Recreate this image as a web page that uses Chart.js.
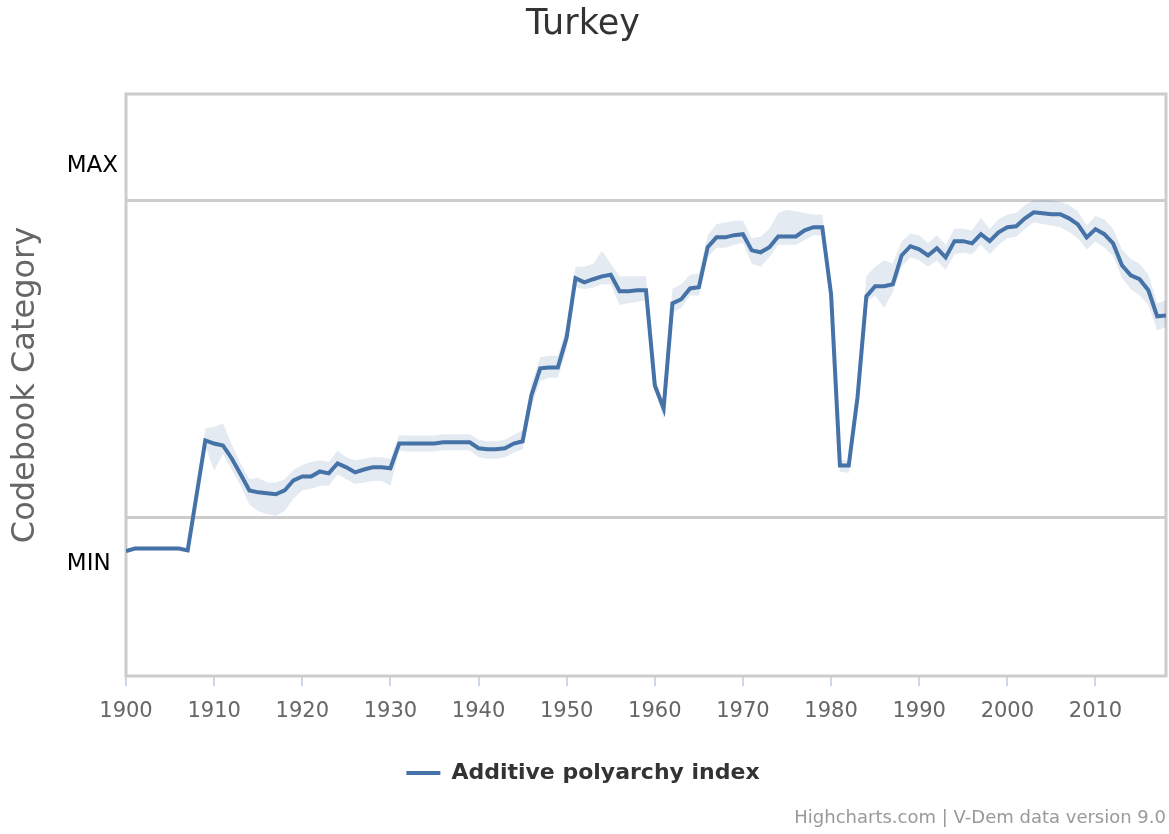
<!DOCTYPE html>
<html>
<head>
<meta charset="utf-8">
<title>Turkey</title>
<script src="https://cdn.jsdelivr.net/npm/chart.js@4.4.1/dist/chart.umd.min.js"></script>
<style>
  html, body { margin: 0; padding: 0; background: #fff; }
  #chart { display: block; }
</style>
</head>
<body>
<canvas id="chart" width="1169" height="834"></canvas>
<script>
const years = [
  1900, 1901, 1902, 1903, 1904, 1905, 1906, 1907, 1908, 1909,
  1910, 1911, 1912, 1913, 1914, 1915, 1916, 1917, 1918, 1919,
  1920, 1921, 1922, 1923, 1924, 1925, 1926, 1927, 1928, 1929,
  1930, 1931, 1932, 1933, 1934, 1935, 1936, 1937, 1938, 1939,
  1940, 1941, 1942, 1943, 1944, 1945, 1946, 1947, 1948, 1949,
  1950, 1951, 1952, 1953, 1954, 1955, 1956, 1957, 1958, 1959,
  1960, 1961, 1962, 1963, 1964, 1965, 1966, 1967, 1968, 1969,
  1970, 1971, 1972, 1973, 1974, 1975, 1976, 1977, 1978, 1979,
  1980, 1981, 1982, 1983, 1984, 1985, 1986, 1987, 1988, 1989,
  1990, 1991, 1992, 1993, 1994, 1995, 1996, 1997, 1998, 1999,
  2000, 2001, 2002, 2003, 2004, 2005, 2006, 2007, 2008, 2009,
  2010, 2011, 2012, 2013, 2014, 2015, 2016, 2017, 2018
]

const polyarchy = [
  -0.106, -0.098, -0.098, -0.098, -0.098, -0.098, -0.098, -0.104, 0.069, 0.243,
  0.233, 0.227, 0.186, 0.136, 0.085, 0.079, 0.076, 0.073, 0.085, 0.117,
  0.129, 0.129, 0.145, 0.139, 0.170, 0.158, 0.142, 0.151, 0.158, 0.158,
  0.155, 0.233, 0.233, 0.233, 0.233, 0.233, 0.237, 0.237, 0.237, 0.237,
  0.218, 0.215, 0.215, 0.218, 0.233, 0.240, 0.385, 0.470, 0.473, 0.473,
  0.568, 0.754, 0.741, 0.751, 0.760, 0.765, 0.713, 0.713, 0.716, 0.716,
  0.416, 0.344, 0.675, 0.688, 0.722, 0.726, 0.852, 0.883, 0.883, 0.890,
  0.893, 0.842, 0.836, 0.852, 0.886, 0.886, 0.886, 0.905, 0.915, 0.915,
  0.703, 0.164, 0.164, 0.379, 0.697, 0.729, 0.729, 0.735, 0.826, 0.855,
  0.845, 0.826, 0.849, 0.820, 0.871, 0.871, 0.864, 0.893, 0.871, 0.899,
  0.915, 0.918, 0.943, 0.962, 0.959, 0.956, 0.956, 0.943, 0.924, 0.883,
  0.909, 0.893, 0.864, 0.795, 0.763, 0.751, 0.716, 0.634, 0.637
]

const upper = [
  -0.100, -0.092, -0.092, -0.092, -0.092, -0.092, -0.092, -0.098, 0.090, 0.280,
  0.285, 0.297, 0.230, 0.170, 0.120, 0.125, 0.110, 0.110, 0.120, 0.150,
  0.165, 0.175, 0.180, 0.175, 0.210, 0.190, 0.180, 0.185, 0.190, 0.190,
  0.185, 0.260, 0.258, 0.258, 0.258, 0.258, 0.262, 0.262, 0.262, 0.262,
  0.245, 0.240, 0.240, 0.245, 0.260, 0.275, 0.420, 0.505, 0.510, 0.510,
  0.600, 0.790, 0.790, 0.800, 0.840, 0.800, 0.760, 0.760, 0.760, 0.760,
  0.440, 0.360, 0.720, 0.735, 0.765, 0.770, 0.890, 0.925, 0.930, 0.935,
  0.935, 0.880, 0.885, 0.910, 0.960, 0.970, 0.965, 0.960, 0.955, 0.955,
  0.720, 0.180, 0.180, 0.400, 0.760, 0.790, 0.810, 0.800, 0.870, 0.895,
  0.890, 0.865, 0.890, 0.860, 0.910, 0.910, 0.905, 0.945, 0.910, 0.940,
  0.955, 0.960, 0.985, 1.000, 1.000, 1.000, 0.995, 0.985, 0.965, 0.920,
  0.950, 0.940, 0.910, 0.845, 0.815, 0.800, 0.765, 0.675, 0.685
]

const lower = [
  -0.112, -0.104, -0.104, -0.104, -0.104, -0.104, -0.104, -0.110, 0.050, 0.225,
  0.148, 0.200, 0.150, 0.100, 0.040, 0.020, 0.010, 0.005, 0.020, 0.060,
  0.085, 0.090, 0.100, 0.100, 0.135, 0.120, 0.105, 0.110, 0.115, 0.115,
  0.100, 0.210, 0.208, 0.208, 0.208, 0.208, 0.212, 0.212, 0.212, 0.212,
  0.190, 0.185, 0.185, 0.190, 0.205, 0.215, 0.350, 0.430, 0.440, 0.440,
  0.530, 0.725, 0.720, 0.725, 0.735, 0.735, 0.670, 0.675, 0.680, 0.685,
  0.400, 0.310, 0.645, 0.660, 0.700, 0.700, 0.820, 0.850, 0.850, 0.860,
  0.865, 0.800, 0.790, 0.820, 0.860, 0.860, 0.860, 0.875, 0.890, 0.890,
  0.690, 0.145, 0.140, 0.360, 0.680, 0.700, 0.660, 0.710, 0.790, 0.820,
  0.810, 0.790, 0.810, 0.780, 0.830, 0.835, 0.830, 0.860, 0.830, 0.860,
  0.880, 0.885, 0.910, 0.930, 0.925, 0.920, 0.915, 0.900, 0.880, 0.845,
  0.870, 0.850, 0.825, 0.755, 0.720, 0.700, 0.670, 0.590, 0.600
]

// y axis: two grid lines, labels sit a bit off them
const yTickValues = [-0.148, 0, 1, 1.107]
const yTickLabels = ['MIN ', '', '', 'MAX']

const lineColor = '#4572A7'
const bandColor = 'rgba(69,114,167,0.15)'

const points = (vals) => vals.map((v, i) => ({ x: years[i], y: v }))

// grey frame round the plot area
const plotBorder = {
    id: 'plotBorder',
    beforeDatasetsDraw(chart) {
        const { ctx, chartArea: a } = chart
        ctx.save()
        ctx.strokeStyle = '#cccccc'
        ctx.lineWidth = 3
        ctx.strokeRect(a.left, a.top, a.right - a.left, a.bottom - a.top)
        ctx.restore()
    }
}

window.onload = () => {
    const ctx = document.getElementById('chart')

    Chart.defaults.font.family = "'DejaVu Sans', sans-serif"

    new Chart(ctx, {
        type: 'line',
        data: {
            datasets: [
                {
                    label: 'Additive polyarchy index',
                    data: points(polyarchy),
                    borderColor: lineColor,
                    backgroundColor: lineColor,
                    borderWidth: 4,
                    pointRadius: 0,
                    tension: 0,
                    fill: false
                },
                {
                    label: 'upper',
                    data: points(upper),
                    borderWidth: 0,
                    borderColor: 'rgba(0,0,0,0)',
                    backgroundColor: bandColor,
                    pointRadius: 0,
                    fill: '+1'
                },
                {
                    label: 'lower',
                    data: points(lower),
                    borderWidth: 0,
                    borderColor: 'rgba(0,0,0,0)',
                    pointRadius: 0,
                    fill: false
                }
            ]
        },
        options: {
            responsive: false,
            animation: false,
            devicePixelRatio: 1,
            layout: {
                padding: { left: 0, right: 3, top: 0, bottom: 0 }
            },
            scales: {
                x: {
                    type: 'linear',
                    min: 1900,
                    max: 2018,
                    afterFit: (scale) => { scale.height = 52 },
                    ticks: {
                        stepSize: 10,
                        includeBounds: false,
                        maxRotation: 0,
                        padding: 13,
                        color: '#666666',
                        font: { size: 21 },
                        callback: (v) => String(v)
                    },
                    grid: {
                        drawOnChartArea: false,
                        drawTicks: true,
                        tickLength: 10,
                        tickColor: '#ccd6eb',
                        lineWidth: 2
                    },
                    border: { display: false }
                },
                y: {
                    min: -0.5,
                    max: 1.335,
                    afterBuildTicks: (scale) => {
                        scale.ticks = yTickValues.map(v => ({ value: v }))
                    },
                    afterFit: (scale) => { scale.width = 126 },
                    ticks: {
                        autoSkip: false,
                        padding: 8,
                        color: '#000000',
                        font: { size: 23 },
                        callback: (v, i) => yTickLabels[i]
                    },
                    grid: {
                        drawTicks: false,
                        lineWidth: 3,
                        color: (c) => (c.tick && (c.tick.value === 0 || c.tick.value === 1)) ? '#cccccc' : 'rgba(0,0,0,0)'
                    },
                    border: { display: false },
                    title: {
                        display: true,
                        text: 'Codebook Category',
                        color: '#666666',
                        font: { size: 32 },
                        padding: { top: 6, bottom: 0 }
                    }
                }
            },
            plugins: {
                title: {
                    display: true,
                    text: 'Turkey',
                    color: '#333333',
                    font: { size: 35, weight: 'normal' },
                    padding: { top: 4, bottom: 48 }
                },
                subtitle: {
                    display: true,
                    position: 'bottom',
                    align: 'end',
                    text: 'Highcharts.com | V-Dem data version 9.0',
                    color: '#999999',
                    font: { size: 18, weight: 'normal' },
                    padding: { top: 13.2, bottom: 5.2 }
                },
                legend: {
                    position: 'bottom',
                    labels: {
                        filter: (item) => item.datasetIndex === 0,
                        usePointStyle: true,
                        pointStyle: 'line',
                        pointStyleWidth: 34,
                        color: '#333333',
                        font: { size: 22, weight: 'bold' },
                        padding: 34
                    }
                },
                tooltip: { enabled: false }
            }
        },
        plugins: [plotBorder]
    })
}
</script>
</body>
</html>
